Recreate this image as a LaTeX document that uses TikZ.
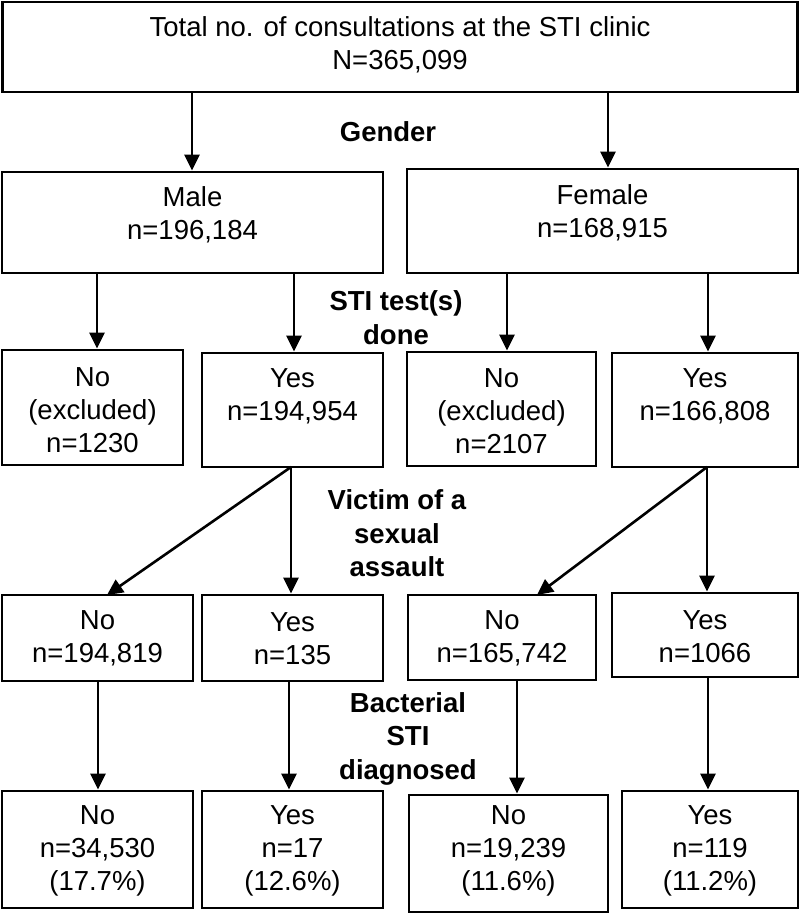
\documentclass[tikz,border=0pt]{standalone}
\usepackage{fontspec}
\setmainfont{Liberation Sans}
\usetikzlibrary{arrows.meta}
\begin{document}
\begin{tikzpicture}[x=1pt,y=-1pt,
  box/.style={draw,line width=2.8pt,inner sep=0pt},
  txt/.style={align=center,inner sep=0pt,font=\fontsize{27.5}{33}\selectfont},
  lbl/.style={align=center,inner sep=0pt,font=\fontsize{27.5}{33.5}\selectfont\bfseries},
  arr/.style={line width=2.6pt,-{Triangle[length=16pt,width=15pt]}}]
\useasboundingbox (0,0) rectangle (800,913);
% boxes: centre, width, height
\node[box,minimum width=795,minimum height=90] (top) at (400,47) {};
\node[box,minimum width=381,minimum height=101] (male) at (192.5,222.5) {};
\node[box,minimum width=391,minimum height=104] (female) at (602.5,221) {};
\node[box,minimum width=181,minimum height=115] (mno) at (92.5,407.5) {};
\node[box,minimum width=181,minimum height=114] (myes) at (292.5,410) {};
\node[box,minimum width=189,minimum height=114] (fno) at (501.5,409) {};
\node[box,minimum width=186,minimum height=114] (fyes) at (705,410) {};
\node[box,minimum width=191,minimum height=86] (mvno) at (97.5,638) {};
\node[box,minimum width=181,minimum height=86] (mvyes) at (292.5,638) {};
\node[box,minimum width=188,minimum height=85] (fvno) at (502,637.5) {};
\node[box,minimum width=186,minimum height=84] (fvyes) at (705,635) {};
\node[box,minimum width=191,minimum height=117] (mdno) at (97.5,849.5) {};
\node[box,minimum width=181,minimum height=117] (mdyes) at (292.5,849.5) {};
\node[box,minimum width=199,minimum height=117] (fdno) at (508.5,853.5) {};
\node[box,minimum width=176,minimum height=117] (fdyes) at (710,849.5) {};
% texts
\node[txt] (top-t) at (400,45) {Total no. of consultations at the STI clinic\\N=365,099};
\node[txt] (male-t) at (192.5,215) {Male\\n=196,184};
\node[txt] (female-t) at (602.5,213) {Female\\n=168,915};
\node[txt] (mno-t) at (92.5,410.5) {No\\(excluded)\\n=1230};
\node[txt] (myes-t) at (292.5,396.5) {Yes\\n=194,954};
\node[txt] (fno-t) at (501.5,411) {No\\(excluded)\\n=2107};
\node[txt] (fyes-t) at (705,396.5) {Yes\\n=166,808};
\node[txt] (mvno-t) at (97.5,638.5) {No\\n=194,819};
\node[txt] (mvyes-t) at (292.5,638.5) {Yes\\n=135};
\node[txt] (fvno-t) at (502,638.5) {No\\n=165,742};
\node[txt] (fvyes-t) at (705,636.5) {Yes\\n=1066};
\node[txt] (mdno-t) at (97.5,850.5) {No\\n=34,530\\(17.7\%)};
\node[txt] (mdyes-t) at (292.5,850.5) {Yes\\n=17\\(12.6\%)};
\node[txt] (fdno-t) at (508.5,851) {No\\n=19,239\\(11.6\%)};
\node[txt] (fdyes-t) at (710,850.5) {Yes\\n=119\\(11.2\%)};
% labels
\node[lbl] (gender) at (388,132) {Gender};
\node[lbl] (tests) at (396,317.5) {STI test(s)\\done};
\node[lbl] (victim) at (397,533.5) {Victim of a\\sexual\\assault};
\node[lbl] (bact) at (408,738.5) {Bacterial\\STI\\diagnosed};
% arrow x positions
\coordinate (x1) at (192,0);
\coordinate (x2) at (608,0);
\coordinate (x3) at (97,0);
\coordinate (x4) at (294,0);
\coordinate (x5) at (507,0);
\coordinate (x6) at (708,0);
\coordinate (ms) at (291,467);
\coordinate (fs) at (707,467);
\coordinate (mt) at (107,595);
\coordinate (ft) at (537,595);
\coordinate (x7) at (98,0);
\coordinate (x8) at (289,0);
\coordinate (x9) at (517,0);
% arrows
\draw[arr] (top.south -| x1) -- (x1 |- male.north);
\draw[arr] (top.south -| x2) -- (x2 |- female.north);
\draw[arr] (male.south -| x3) -- (x3 |- mno.north);
\draw[arr] (male.south -| x4) -- (x4 |- myes.north);
\draw[arr] (female.south -| x5) -- (x5 |- fno.north);
\draw[arr] (female.south -| x6) -- (x6 |- fyes.north);
\draw[arr] (ms) -- (mt);
\draw[arr] (ms) -- (ms |- mvyes.north);
\draw[arr] (fs) -- (ft);
\draw[arr] (fs) -- (fs |- fvyes.north);
\draw[arr] (mvno.south -| x7) -- (x7 |- mdno.north);
\draw[arr] (mvyes.south -| x8) -- (x8 |- mdyes.north);
\draw[arr] (fvno.south -| x9) -- (x9 |- fdno.north);
\draw[arr] (fvyes.south -| x6) -- (x6 |- fdyes.north);
\end{tikzpicture}
\end{document}
